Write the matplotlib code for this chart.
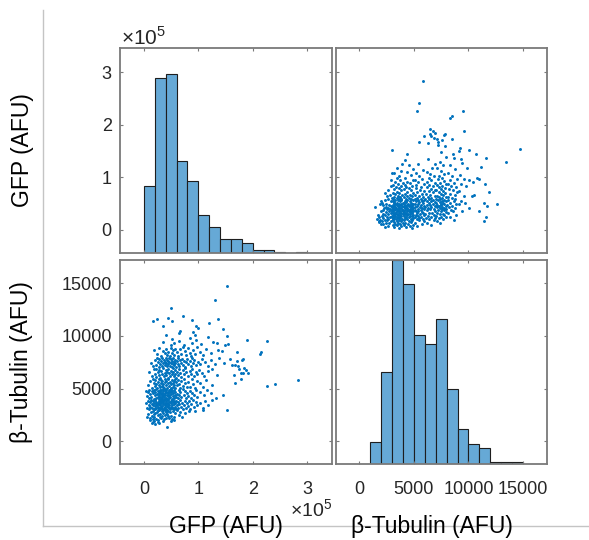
import numpy as np
import matplotlib
matplotlib.use("Agg")
import matplotlib.pyplot as plt
from matplotlib.lines import Line2D
from matplotlib.ticker import FuncFormatter

plt.rcParams['font.family'] = ['Liberation Sans', 'DejaVu Sans']
plt.rcParams['mathtext.fontset'] = 'custom'
plt.rcParams['mathtext.rm'] = 'Liberation Sans'

# per-cell measurements: (GFP in thousands of AFU, beta-tubulin AFU)
cells = [
    # tubulin 1000-2000
    (12, 1980), (15, 1750), (18, 1900), (16, 1820), (20, 1650), (25, 1800), (28, 1700),
    (35, 1950), (43, 1400), (50, 1900), (55, 1980),
    # tubulin 2000-3000
    (5, 2300), (8, 2600), (11, 2200), (13, 2750), (14, 2450), (16, 2100), (17, 2900),
    (18, 2550), (19, 2350), (21, 2650), (22, 2150), (24, 2800), (25, 2500), (26, 2050),
    (27, 2950), (29, 2300), (30, 2600), (31, 2200), (33, 2850), (34, 2400), (35, 2700),
    (37, 2150), (38, 2950), (39, 2500), (40, 2800), (41, 2250), (42, 2600), (44, 2400),
    (45, 2900), (47, 2200), (48, 2750), (50, 2450), (52, 2100), (54, 2850), (56, 2350),
    (58, 2650), (61, 2950), (64, 2500), (67, 2800), (70, 2300), (75, 2650), (83, 2900),
    (94, 2850), (108, 2950), (152, 2960),
    # tubulin 3000-4000
    (4, 3600), (6, 3150), (7, 3850), (9, 3400), (10, 3050), (11, 3700), (12, 3300),
    (13, 3950), (14, 3500), (15, 3200), (16, 3800), (17, 3450), (18, 3100), (19, 3650),
    (20, 3350), (21, 3900), (21, 3050), (22, 3550), (23, 3200), (23, 3750), (24, 3450),
    (25, 3000), (25, 3650), (26, 3300), (27, 3850), (27, 3150), (28, 3500), (29, 3700),
    (29, 3050), (30, 3400), (31, 3950), (31, 3250), (32, 3600), (33, 3100), (33, 3800),
    (34, 3350), (35, 3550), (35, 3000), (36, 3750), (37, 3200), (37, 3900), (38, 3450),
    (38, 3050), (39, 3650), (39, 3300), (36, 3950), (32, 3150), (40, 3500), (41, 3100),
    (41, 3800), (42, 3350), (43, 3650), (43, 3000), (44, 3250), (45, 3900), (45, 3550),
    (46, 3150), (47, 3700), (47, 3400), (48, 3050), (49, 3850), (49, 3300), (50, 3600),
    (51, 3150), (52, 3450), (52, 3950), (53, 3200), (54, 3700), (55, 3050), (56, 3500),
    (56, 3850), (57, 3300), (58, 3600), (59, 3100), (59, 3800), (61, 3400), (62, 3750),
    (63, 3150), (65, 3550), (66, 3900), (68, 3250), (70, 3650), (71, 3050), (73, 3450),
    (75, 3850), (77, 3200), (79, 3600), (81, 3350), (83, 3800), (85, 3100), (87, 3550),
    (90, 3950), (92, 3250), (95, 3700), (98, 3400), (103, 3600), (108, 3150), (112, 3850),
    (117, 3450), (126, 3900),
    # tubulin 4000-5000
    (3, 4800), (5, 4300), (7, 4650), (9, 4100), (10, 4900), (12, 4450), (13, 4200),
    (15, 4750), (16, 4550), (18, 4050), (19, 4850), (20, 4400), (21, 4700), (22, 4150),
    (23, 4950), (24, 4500), (25, 4250), (26, 4800), (27, 4050), (27, 4600), (28, 4350),
    (29, 4900), (30, 4200), (30, 4650), (31, 4450), (32, 4050), (32, 4850), (33, 4300),
    (34, 4600), (34, 4100), (35, 4950), (36, 4400), (36, 4750), (37, 4200), (38, 4550),
    (38, 4000), (39, 4850), (39, 4350), (35, 4500), (40, 4650), (41, 4150), (41, 4900),
    (42, 4400), (43, 4050), (44, 4700), (44, 4300), (45, 4550), (46, 4100), (46, 4850),
    (47, 4350), (48, 4650), (48, 4200), (49, 4950), (50, 4450), (51, 4050), (52, 4750),
    (53, 4300), (54, 4600), (55, 4150), (56, 4900), (57, 4400), (58, 4700), (59, 4250),
    (50, 4800), (61, 4500), (62, 4100), (64, 4850), (65, 4350), (67, 4650), (69, 4200),
    (71, 4950), (73, 4400), (75, 4750), (77, 4100), (79, 4550), (81, 4300), (84, 4800),
    (86, 4150), (89, 4600), (92, 4400), (95, 4900), (98, 4200), (104, 4700), (110, 4350),
    (116, 4900), (124, 4550), (133, 4150), (145, 4400),
    # tubulin 5000-6000
    (8, 5300), (11, 5700), (14, 5100), (16, 5900), (19, 5500), (20, 5250), (21, 5800),
    (23, 5450), (24, 5050), (25, 5650), (27, 5350), (28, 5950), (29, 5150), (31, 5550),
    (32, 5850), (33, 5250), (34, 5700), (36, 5400), (37, 5050), (38, 5600), (39, 5900),
    (35, 5200), (40, 5350), (41, 5750), (43, 5100), (44, 5550), (45, 5950), (46, 5250),
    (48, 5650), (49, 5400), (50, 5050), (51, 5850), (53, 5500), (54, 5200), (55, 5750),
    (56, 5350), (57, 5950), (58, 5100), (59, 5600), (61, 5300), (63, 5800), (65, 5450),
    (67, 5100), (69, 5700), (72, 5250), (74, 5900), (76, 5550), (79, 5150), (82, 5650),
    (85, 5200), (88, 5900), (91, 5400), (94, 5100), (97, 5750), (103, 5500), (109, 5150),
    (114, 5850), (125, 5350), (167, 5500), (178, 5880), (226, 5250), (241, 5440),
    (284, 5850),
    # tubulin 6000-7000
    (10, 6600), (14, 6150), (18, 6850), (20, 6400), (22, 6900), (23, 6100), (25, 6550),
    (27, 6250), (28, 6800), (30, 6050), (32, 6650), (33, 6350), (35, 6950), (37, 6200),
    (39, 6500), (40, 6800), (41, 6300), (43, 6600), (44, 6050), (45, 6900), (47, 6450),
    (48, 6150), (50, 6700), (51, 6350), (53, 6950), (54, 6550), (55, 6200), (57, 6750),
    (58, 6400), (59, 6050), (61, 6600), (63, 6250), (65, 6900), (67, 6450), (69, 6100),
    (72, 6750), (74, 6350), (76, 6950), (78, 6550), (81, 6200), (84, 6700), (86, 6400),
    (89, 6900), (92, 6150), (95, 6600), (98, 6350), (102, 6800), (107, 6450), (111, 6150),
    (118, 6650), (126, 6900), (135, 6250), (175, 6830), (178, 6520), (165, 6290),
    (188, 6770), (182, 6450), (191, 6450), (184, 6950),
    # tubulin 7000-8000
    (13, 7400), (17, 7100), (20, 7700), (22, 7250), (24, 7950), (25, 7500), (27, 7050),
    (28, 7800), (30, 7350), (31, 7650), (33, 7150), (34, 7900), (36, 7450), (37, 7750),
    (38, 7200), (39, 7550), (40, 7900), (41, 7400), (42, 7750), (43, 7100), (44, 7600),
    (45, 7300), (46, 7950), (47, 7500), (48, 7150), (49, 7800), (50, 7450), (51, 7050),
    (52, 7650), (53, 7350), (54, 7900), (55, 7550), (56, 7200), (57, 7750), (58, 7400),
    (59, 7050), (60, 7600), (62, 7300), (63, 7900), (65, 7150), (66, 7700), (68, 7450),
    (70, 7850), (72, 7250), (74, 7650), (76, 7050), (78, 7500), (80, 7850), (82, 7300),
    (84, 7600), (86, 7100), (88, 7950), (90, 7400), (93, 7750), (96, 7200), (99, 7550),
    (103, 7300), (107, 7800), (112, 7500), (117, 7150), (123, 7700), (130, 7350),
    (138, 7900), (159, 7810), (148, 7450), (171, 7590), (168, 7240), (173, 7145),
    (162, 7240), (182, 7840), (180, 7750),
    # tubulin 8000-9000
    (18, 8700), (24, 8300), (28, 8850), (32, 8100), (35, 8600), (38, 8400), (41, 8750),
    (43, 8200), (45, 8500), (48, 8050), (50, 8900), (52, 8350), (54, 8650), (56, 8150),
    (58, 8800), (61, 8450), (63, 8100), (66, 8750), (69, 8300), (72, 8950), (75, 8550),
    (78, 8200), (81, 8850), (84, 8400), (87, 8100), (90, 8650), (94, 8300), (97, 8950),
    (103, 8500), (109, 8150), (115, 8800), (124, 8350), (136, 8700), (144, 8550),
    (172, 8510), (216, 8510), (213, 8280),
    # tubulin 9000 and above
    (36, 9400), (49, 9150), (52, 9700), (55, 9300), (64, 9550), (74, 9100), (84, 9800),
    (88, 9350), (96, 9600), (105, 9200), (117, 9850), (128, 9450), (135, 9300),
    (150, 9100), (155, 9200), (189, 9610), (227, 9520),
    (36, 10940), (41, 10090), (64, 10310), (66, 10470), (91, 10410), (94, 10090),
    (96, 10940), (99, 10780), (145, 10660), (152, 10030),
    (17, 11410), (24, 11570), (45, 11730), (52, 11410), (72, 11900), (88, 11510),
    (120, 11190), (136, 11640),
    (49, 12600), (130, 13400), (153, 14750),
]
gfp = np.array([c[0] for c in cells]) * 1000.0
tubulin = np.array([c[1] for c in cells], dtype=float)

# histogram bins and counts
gfp_edges = np.arange(0, 300001, 20000)
gfp_counts = [49, 128, 131, 67, 53, 28, 19, 10, 10, 7, 2, 2, 1, 0, 1]
tub_edges = np.arange(1000, 15001, 1000)
tub_counts = [11, 45, 100, 88, 63, 59, 71, 37, 17, 10, 8, 1, 1, 1]

gfp_lim = (-44000, 346000)
tub_lim = (-2150, 17200)
gfp_ticks = [0, 100000, 200000, 300000]
tub_ticks = [0, 5000, 10000, 15000]

dot_color = '#0072BD'
bar_color = '#66A9D6'
frame_color = '#7a7a7a'
tick_color = '#262626'

W, H = 589, 540
fig = plt.figure(figsize=(W / 100, H / 100), dpi=100)
fig.patch.set_facecolor('white')


def px_rect(x0, y0, x1, y1):
    return [x0 / W, 1 - y1 / H, (x1 - x0) / W, (y1 - y0) / H]


cols = [(120, 332), (336, 547)]
rows = [(48, 253), (260, 464)]
lims = [gfp_lim, tub_lim]
ticks = [gfp_ticks, tub_ticks]
data = [gfp, tubulin]
gfp_fmt = FuncFormatter(lambda v, p: f'{v / 1e5:g}')
fmts = [gfp_fmt, FuncFormatter(lambda v, p: f'{v:g}')]


def style(ax, i, j):
    ax.set_xlim(lims[j])
    ax.set_ylim(lims[i])
    ax.set_xticks(ticks[j])
    ax.set_yticks(ticks[i])
    ax.xaxis.set_major_formatter(fmts[j])
    ax.yaxis.set_major_formatter(fmts[i])
    ax.tick_params(direction='in', length=2.5, width=0.8, color=frame_color,
                   top=True, right=True, labelsize=13, labelcolor=tick_color)
    ax.tick_params(axis='x', pad=12)
    ax.tick_params(axis='y', pad=6)
    if i == 0:
        ax.tick_params(labelbottom=False)
    if j == 1:
        ax.tick_params(labelleft=False)
    for s in ax.spines.values():
        s.set_color(frame_color)
        s.set_linewidth(1.3)


for i in range(2):
    for j in range(2):
        rect = px_rect(cols[j][0], rows[i][0], cols[j][1], rows[i][1])
        if i == j:
            hax = fig.add_axes(rect)
            hax.axis('off')
            hax.set_xlim(lims[j])
            if i == 0:
                hax.set_ylim(0, 150)
                hax.bar(gfp_edges[:-1], gfp_counts, width=np.diff(gfp_edges), align='edge',
                        color=bar_color, edgecolor='#1e1e1e', linewidth=0.8)
            else:
                hax.set_ylim(0, 100)
                hax.bar(tub_edges[:-1], tub_counts, width=np.diff(tub_edges), align='edge',
                        color=bar_color, edgecolor='#1e1e1e', linewidth=0.8)
            ax = fig.add_axes(rect)
            ax.patch.set_alpha(0)
        else:
            ax = fig.add_axes(rect)
            ax.scatter(data[j], data[i], s=4.5, color=dot_color, linewidths=0)
        style(ax, i, j)

# axis labels and exponent markers
fig.text(22 / W, 1 - 150 / H, 'GFP (AFU)', rotation=90, ha='center', va='center', fontsize=16.5)
fig.text(22 / W, 1 - 362 / H, 'β-Tubulin (AFU)', rotation=90, ha='center', va='center', fontsize=16.5)
fig.text(226 / W, 1 - 527 / H, 'GFP (AFU)', ha='center', va='center', fontsize=16.5)
fig.text(432 / W, 1 - 527 / H, 'β-Tubulin (AFU)', ha='center', va='center', fontsize=16.5)
fig.text(121 / W, 1 - 37 / H, r'$\times10^{5}$', ha='left', va='center', fontsize=15, color=tick_color)
fig.text(311 / W, 1 - 510 / H, r'$\times10^{5}$', ha='center', va='center', fontsize=14, color=tick_color)

# outer label frame
fig.add_artist(Line2D([43 / W, 43 / W], [1 - 10 / H, 1 - 526 / H], color='#c4c4c4', linewidth=1))
fig.add_artist(Line2D([43 / W, 1], [1 - 526 / H, 1 - 526 / H], color='#c4c4c4', linewidth=1))

fig.savefig('out.png', dpi=100, facecolor='white')
